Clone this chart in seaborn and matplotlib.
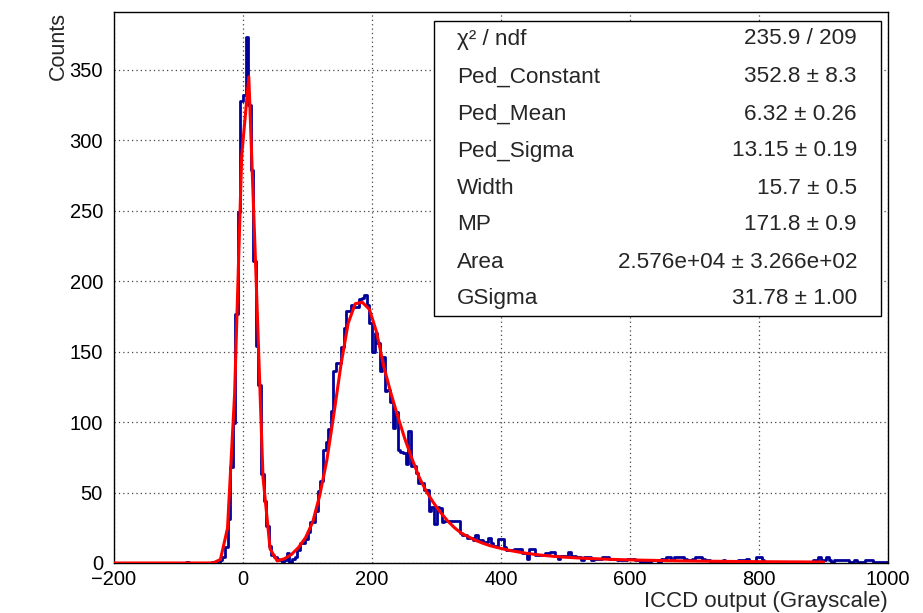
import numpy as np
import pandas as pd
import matplotlib
matplotlib.use("Agg")
import matplotlib.pyplot as plt
from matplotlib.ticker import MultipleLocator
import seaborn as sns

# ---------------- data ----------------
bin_lo, bin_hi, bin_w = -200, 1000, 4
counts = [
    0, 0, 0, 0, 0, 0, 0, 0, 0, 0,            # -200 .. -164
    0, 0, 0, 0, 0, 0, 0, 0, 0, 0,            # -160 .. -124
    0, 0, 0, 0, 0, 0, 0, 0, 1, 0,            # -120 .. -84
    0, 0, 0, 0, 0, 0, 0, 0, 1, 0,            # -80 .. -44
    1, 2, 4, 11, 31, 68, 99, 177, 249, 328,  # -40 .. -4
    332, 373, 325, 279, 214, 154, 126, 63, 44, 26,  # 0 .. 36
    12, 6, 4, 3, 2, 1, 2, 7, 1, 3,           # 40 .. 76
    4, 9, 14, 14, 17, 22, 29, 29, 37, 51,    # 80 .. 116
    58, 80, 86, 95, 108, 136, 142, 142, 153, 167,   # 120 .. 156
    179, 179, 183, 182, 182, 187, 188, 190, 183, 170,  # 160 .. 196
    150, 163, 156, 136, 146, 122, 123, 114, 96, 107,  # 200 .. 236
    80, 79, 78, 70, 94, 69, 69, 64, 57, 57,  # 240 .. 276
    52, 52, 37, 40, 28, 40, 39, 29, 30, 30,  # 280 .. 316
    30, 30, 30, 30, 21, 20, 20, 18, 18, 16,  # 320 .. 356
    20, 16, 16, 15, 15, 18, 14, 12, 12, 17,  # 360 .. 396
    17, 11, 9, 9, 9, 10, 10, 10, 7, 7,       # 400 .. 436
    3, 10, 10, 6, 6, 6, 6, 7, 7, 8,          # 440 .. 476
    8, 5, 3, 5, 5, 5, 8, 5, 5, 4,            # 480 .. 516
    4, 2, 4, 4, 4, 2, 3, 3, 3, 4,            # 520 .. 556
    4, 4, 3, 3, 3, 2, 2, 2, 2, 3,            # 560 .. 596
    3, 3, 2, 2, 1, 1, 1, 1, 2, 2,            # 600 .. 636
    2, 1, 3, 2, 4, 4, 2, 4, 4, 4,            # 640 .. 676
    4, 3, 2, 2, 3, 4, 4, 4, 3, 2,            # 680 .. 716
    2, 1, 1, 1, 0, 1, 2, 1, 1, 1,            # 720 .. 756
    1, 1, 2, 2, 2, 3, 1, 1, 1, 4,            # 760 .. 796
    4, 2, 1, 1, 1, 1, 0, 0, 1, 1,            # 800 .. 836
    0, 1, 0, 0, 1, 1, 0, 0, 0, 1,            # 840 .. 876
    1, 2, 2, 4, 2, 2, 4, 2, 1, 2,            # 880 .. 916
    2, 2, 2, 2, 2, 1, 1, 2, 1, 1,            # 920 .. 956
    1, 2, 2, 2, 1, 1, 1, 1, 1, 1,            # 960 .. 996
]

# fitted curve, sampled every 11 units from -200 to 900 (as drawn)
fit_lo, fit_hi, fit_step = -200, 900, 11
fit_vals = [
    0, 0, 0, 0, 0, 0, 0, 0, 0, 0,
    0, 0, 0, 0, 0.1, 2.5, 24.7, 120, 289, 345,
    206, 61, 10, 1.5, 3, 6, 11, 18, 29, 48,
    73, 106, 141, 170, 184, 185, 180, 164, 140, 121,
    104, 88, 74, 61, 51, 43, 36, 30, 25, 21,
    18.5, 16, 14, 12.3, 11, 9.8, 8.7, 7.8, 7, 6.3,
    5.7, 5.2, 4.7, 4.3, 4.0, 3.7, 3.4, 3.2, 3.0, 2.8,
    2.6, 2.45, 2.3, 2.2, 2.05, 1.95, 1.85, 1.75, 1.65, 1.6,
    1.5, 1.45, 1.38, 1.32, 1.26, 1.2, 1.15, 1.1, 1.06, 1.02,
    0.98, 0.94, 0.9, 0.87, 0.84, 0.81, 0.78, 0.76, 0.73, 0.71,
    0.69,
]

stat_names = ["χ² / ndf", "Ped_Constant", "Ped_Mean", "Ped_Sigma",
              "Width", "MP", "Area", "GSigma"]
stat_values = ["235.9 / 209", "352.8 ± 8.3", "6.32 ± 0.26", "13.15 ± 0.19",
               "15.7 ± 0.5", "171.8 ± 0.9", "2.576e+04 ± 3.266e+02",
               "31.78 ± 1.00"]

x_label = "ICCD output (Grayscale)"
y_label = "Counts"

# ---------------- plot ----------------
sns.set_style("white")
plt.rcParams["font.family"] = ["Liberation Sans", "DejaVu Sans"]
plt.rcParams["axes.unicode_minus"] = True

W, H = 923, 613
fig = plt.figure(figsize=(W / 100, H / 100), dpi=100)
ax = fig.add_axes([114 / W, 50 / H, (888 - 114) / W, (563 - 12) / H])

n_bins = len(counts)
centers = bin_lo + bin_w * (np.arange(n_bins) + 0.5)
df = pd.DataFrame({"x": centers, "w": np.asarray(counts, dtype=float)})
sns.histplot(data=df, x="x", weights="w", binwidth=bin_w,
             binrange=(bin_lo, bin_hi), element="step",
             fill=False, color="#000099", linewidth=2.0, ax=ax)

fit_x = np.arange(fit_lo, fit_hi + 1, fit_step)
fdf = pd.DataFrame({"x": fit_x, "y": fit_vals})
sns.lineplot(data=fdf, x="x", y="y", color="#ff0000", linewidth=2.2,
             ax=ax, zorder=5)

ax.set_xlim(-200, 1000)
ax.set_ylim(0, 391)
ax.xaxis.set_major_locator(MultipleLocator(200))
ax.xaxis.set_minor_locator(MultipleLocator(50))
ax.yaxis.set_major_locator(MultipleLocator(50))
ax.yaxis.set_minor_locator(MultipleLocator(10))
ax.tick_params(which="both", direction="in", top=False, right=False,
               labelsize=14.5, colors="black")
ax.tick_params(axis="x", which="major", length=15, width=1, pad=5)
ax.tick_params(axis="x", which="minor", length=7, width=1)
ax.tick_params(axis="y", which="major", length=20, width=1, pad=8)
ax.tick_params(axis="y", which="minor", length=10, width=1)
ax.grid(True, which="major", linestyle=(0, (1, 2.5)), color="#444444",
        linewidth=0.9)
for s in ax.spines.values():
    s.set_color("black")
    s.set_linewidth(1.0)
ax.set_xlabel("")
ax.set_ylabel("")

fig.text(888 / W, 1 - 601 / H, x_label, ha="right", va="center",
         fontsize=16)
fig.text(58 / W, 1 - 12 / H, y_label, ha="center", va="top",
         rotation=90, fontsize=15.5)

# stats box
bx0, by0, bx1, by1 = 434, 21, 881, 316
box = plt.Rectangle((bx0 / W, 1 - by1 / H), (bx1 - bx0) / W, (by1 - by0) / H,
                    transform=fig.transFigure, facecolor="white",
                    edgecolor="black", linewidth=1.0, zorder=10)
fig.add_artist(box)
row_y = [39, 77, 114, 151, 188, 225, 262, 299]
for name, val, yy in zip(stat_names, stat_values, row_y):
    fig.text(457 / W, 1 - yy / H, name, ha="left", va="center",
             fontsize=16.2, zorder=11)
    fig.text(857 / W, 1 - yy / H, val, ha="right", va="center",
             fontsize=16.2, zorder=11)

fig.savefig("out.png", dpi=100)
